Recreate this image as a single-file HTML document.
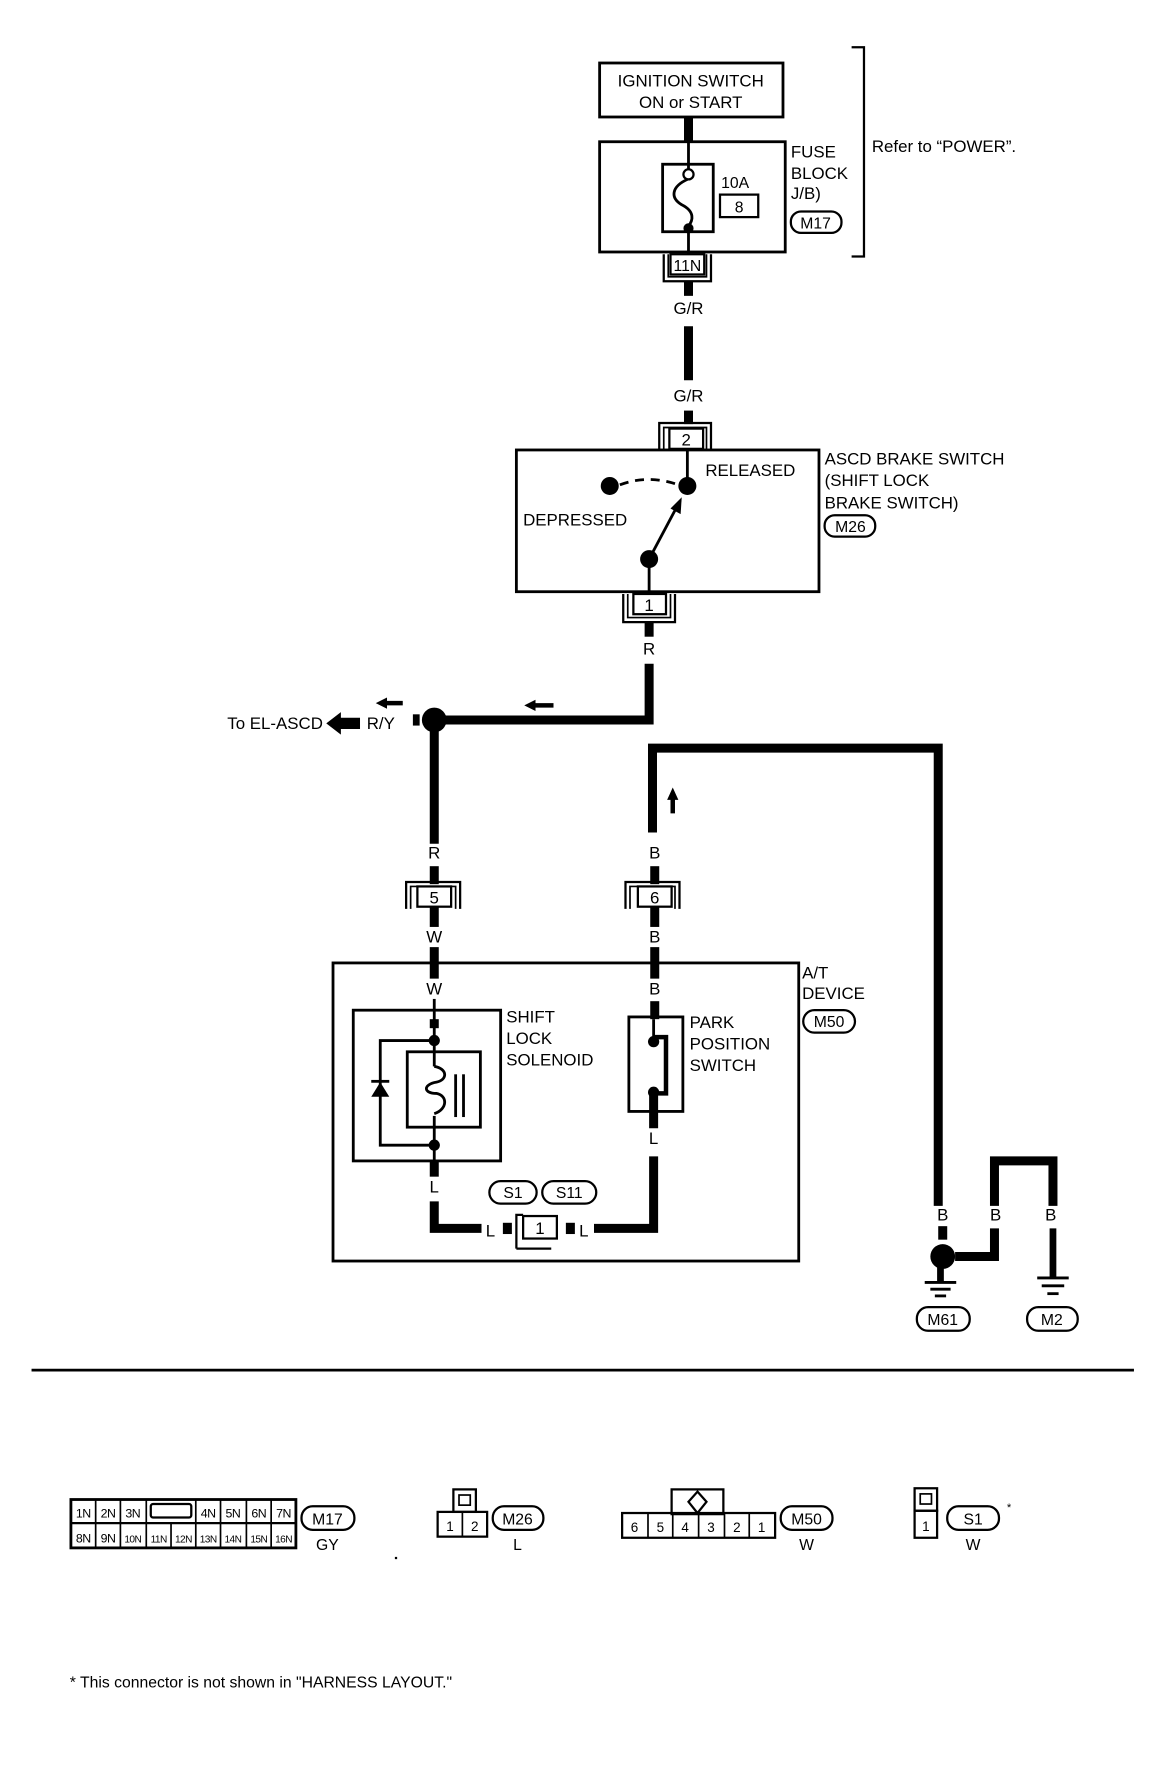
<!DOCTYPE html>
<html><head><meta charset="utf-8"><style>
html,body{margin:0;padding:0;background:#fff;}
svg{display:block;}
text{font-family:"Liberation Sans",sans-serif;fill:#000;}
</style></head><body>
<svg width="1152" height="1774" viewBox="0 0 1024 1577" xmlns="http://www.w3.org/2000/svg">
<g fill="none" stroke="#000">
<rect x="533" y="56" width="163" height="48" stroke-width="2.5"/>
<line x1="612" y1="104" x2="612" y2="126" stroke-width="8"/>
<rect x="533" y="126" width="165" height="98" stroke-width="2.5"/>
<rect x="589" y="146" width="45" height="60" stroke-width="2.5"/>
<line x1="612" y1="126" x2="612" y2="150" stroke-width="2.5"/>
<line x1="612" y1="203" x2="612" y2="226" stroke-width="2.5"/>
<path d="M612 159 C596 166 596 176 606 182 C618 188 616 196 612 201" stroke-width="2.5"/>
<circle cx="612" cy="155" r="4.5" stroke-width="2" fill="#fff"/>
<rect x="640" y="173" width="34" height="20" stroke-width="2"/>
<rect x="703" y="188" width="45" height="19" rx="9" stroke-width="2"/>
<path d="M757 42 H768 V228 H757" stroke-width="2"/>
<rect x="596" y="226" width="30" height="18" stroke-width="2" fill="#fff"/>
<path d="M590 226 V250 H632 V226" stroke-width="2"/>
<path d="M594 226 V246 H628 V226" stroke-width="1.5"/>
<line x1="612" y1="250" x2="612" y2="263" stroke-width="8"/>
<line x1="612" y1="290" x2="612" y2="338" stroke-width="8"/>
<line x1="612" y1="365" x2="612" y2="377" stroke-width="8"/>
<path d="M586 400 V376 H632 V400" stroke-width="2"/>
<path d="M590 400 V380 H628 V400" stroke-width="1.5"/>
<rect x="595" y="381" width="30" height="18" stroke-width="2" fill="#fff"/>
<rect x="459" y="400" width="269" height="126" stroke-width="2.5"/>
<line x1="611" y1="400" x2="611" y2="430" stroke-width="2.5"/>
<path d="M551 431 Q575 422 600 430" stroke-width="2.5" stroke-dasharray="8,6"/>
<line x1="577" y1="497" x2="603" y2="448" stroke-width="2.5"/>
<line x1="577" y1="497" x2="577" y2="528" stroke-width="2.5"/>
<rect x="733" y="458" width="45" height="19" rx="9" stroke-width="2"/>
<path d="M554 528 V553 H600 V528" stroke-width="2"/>
<path d="M558 528 V549 H596 V528" stroke-width="1.5"/>
<rect x="563" y="528" width="29" height="18" stroke-width="2" fill="#fff"/>
<line x1="577" y1="553" x2="577" y2="566" stroke-width="8"/>
<path d="M577 590 V640 H396" stroke-width="8"/>
<line x1="386" y1="650" x2="386" y2="750" stroke-width="8"/>
<line x1="386" y1="770" x2="386" y2="786" stroke-width="8"/>
<line x1="386" y1="806" x2="386" y2="824" stroke-width="8"/>
<line x1="386" y1="842" x2="386" y2="870" stroke-width="8"/>
<line x1="386" y1="888" x2="386" y2="913" stroke-width="2.5"/>
<path d="M361 808 V784 H409 V808" stroke-width="2"/>
<path d="M365 808 V788 H405 V808" stroke-width="1.5"/>
<rect x="371" y="788" width="30" height="18" stroke-width="2" fill="#fff"/>
<path d="M556 808 V784 H604 V808" stroke-width="2"/>
<path d="M560 808 V788 H600 V808" stroke-width="1.5"/>
<rect x="567" y="788" width="30" height="18" stroke-width="2" fill="#fff"/>
<path d="M580 740 V665 H834 V1072" stroke-width="8"/>
<line x1="582" y1="770" x2="582" y2="786" stroke-width="8"/>
<line x1="582" y1="806" x2="582" y2="824" stroke-width="8"/>
<line x1="582" y1="842" x2="582" y2="870" stroke-width="8"/>
<line x1="582" y1="890" x2="582" y2="906" stroke-width="8"/>
<rect x="296" y="856" width="414" height="265" stroke-width="2.5"/>
<rect x="314" y="898" width="131" height="134" stroke-width="2.5"/>
<rect x="362" y="935" width="65" height="67" stroke-width="2.5"/>
<line x1="386" y1="913" x2="386" y2="948" stroke-width="2.5"/>
<line x1="386" y1="992" x2="386" y2="1032" stroke-width="2.5"/>
<path d="M386 948 C398 950 398 960 388 962 C376 964 376 972 388 972 C398 974 398 986 386 990" stroke-width="2.5"/>
<line x1="405" y1="955" x2="405" y2="993" stroke-width="2.5"/>
<line x1="412" y1="955" x2="412" y2="993" stroke-width="2.5"/>
<path d="M386 925 H338 V1018 H386" stroke-width="2.5"/>
<line x1="386" y1="1032" x2="386" y2="1046" stroke-width="8"/>
<path d="M386 1068 V1092 H428" stroke-width="8"/>
<rect x="559" y="904" width="48" height="84" stroke-width="2.5"/>
<line x1="581" y1="906" x2="581" y2="926" stroke-width="2.5"/>
<line x1="581" y1="972" x2="581" y2="1003" stroke-width="8"/>
<path d="M581 922 H592 V972 H585" stroke-width="4"/>
<path d="M581 1028 V1092 H528" stroke-width="8"/>
<rect x="435" y="1050" width="42" height="20" rx="10" stroke-width="2"/>
<rect x="482" y="1050" width="48" height="20" rx="10" stroke-width="2"/>
<rect x="714" y="898" width="46" height="20" rx="10" stroke-width="2"/>
<rect x="465" y="1081" width="30" height="20" stroke-width="2"/>
<path d="M459 1110 V1080 H465" stroke-width="2"/>
<path d="M459 1110 H490" stroke-width="2"/>
<line x1="838" y1="1090" x2="838" y2="1102" stroke-width="8"/>
<path d="M849 1117 H884 V1092" stroke-width="8"/>
<path d="M884 1072 V1032 H936 V1072" stroke-width="8"/>
<line x1="836" y1="1125" x2="836" y2="1140" stroke-width="6"/>
<line x1="936" y1="1092" x2="936" y2="1136" stroke-width="6"/>
<line x1="822" y1="1140" x2="850" y2="1140" stroke-width="2.5"/>
<line x1="827" y1="1146" x2="845" y2="1146" stroke-width="2.5"/>
<line x1="831" y1="1152" x2="841" y2="1152" stroke-width="2.5"/>
<line x1="922" y1="1136" x2="950" y2="1136" stroke-width="2.5"/>
<line x1="926" y1="1143" x2="946" y2="1143" stroke-width="2.5"/>
<line x1="931" y1="1150" x2="941" y2="1150" stroke-width="2.5"/>
<rect x="815" y="1162" width="47" height="21" rx="10" stroke-width="2"/>
<rect x="913" y="1162" width="45" height="21" rx="10" stroke-width="2"/>
<line x1="28" y1="1218" x2="1008" y2="1218" stroke-width="2.5"/>
<rect x="63" y="1333" width="200" height="43" stroke-width="2.5"/>
<line x1="63" y1="1354" x2="263" y2="1354" stroke-width="2"/>
<g stroke-width="1.5">
<line x1="85" y1="1333" x2="85" y2="1376"/><line x1="107" y1="1333" x2="107" y2="1376"/>
<line x1="130" y1="1333" x2="130" y2="1376"/><line x1="152" y1="1354" x2="152" y2="1376"/>
<line x1="174" y1="1333" x2="174" y2="1376"/><line x1="196" y1="1333" x2="196" y2="1376"/>
<line x1="219" y1="1333" x2="219" y2="1376"/><line x1="241" y1="1333" x2="241" y2="1376"/>
</g>
<rect x="134" y="1337" width="36" height="12" rx="2" stroke-width="2"/>
<rect x="268" y="1339" width="47" height="21" rx="10" stroke-width="2"/>
<rect x="403" y="1324" width="20" height="20" stroke-width="2"/>
<rect x="408" y="1329" width="10" height="9" stroke-width="1.5"/>
<rect x="389" y="1344" width="44" height="22" stroke-width="2"/>
<line x1="411" y1="1344" x2="411" y2="1366" stroke-width="1.5"/>
<rect x="438" y="1339" width="45" height="21" rx="10" stroke-width="2"/>
<rect x="597" y="1324" width="46" height="22" stroke-width="2"/>
<path d="M620 1326 L628 1335 L620 1345 L612 1335 Z" stroke-width="2"/>
<rect x="553" y="1345" width="136" height="22" stroke-width="2"/>
<g stroke-width="1.5">
<line x1="576" y1="1345" x2="576" y2="1367"/><line x1="598" y1="1345" x2="598" y2="1367"/>
<line x1="621" y1="1345" x2="621" y2="1367"/><line x1="644" y1="1345" x2="644" y2="1367"/>
<line x1="666" y1="1345" x2="666" y2="1367"/>
</g>
<rect x="694" y="1339" width="46" height="21" rx="10" stroke-width="2"/>
<rect x="813" y="1323" width="20" height="20" stroke-width="2"/>
<rect x="818" y="1328" width="10" height="9" stroke-width="1.5"/>
<rect x="813" y="1343" width="20" height="24" stroke-width="2"/>
<rect x="842" y="1339" width="46" height="21" rx="10" stroke-width="2"/>
</g>
<g fill="#000">
<circle cx="612" cy="203" r="4.5"/>
<circle cx="542" cy="432" r="8"/><circle cx="611" cy="432" r="8"/><circle cx="577" cy="497" r="8"/>
<polygon points="606,442 596,452 605,457"/>
<circle cx="386" cy="640" r="11"/>
<rect x="367" y="635" width="6" height="10"/>
<polygon points="290,643 303,633 303,638 320,638 320,648 303,648 303,653"/>
<polygon points="466,627 476,622 476,625 492,625 492,629 476,629 476,632"/>
<polygon points="334,625 344,620 344,623 358,623 358,627 344,627 344,630"/>
<polygon points="598,700 593,711 596,711 596,723 600,723 600,711 603,711"/>
<rect x="382" y="906" width="8" height="8"/>
<circle cx="386" cy="925" r="5"/><circle cx="386" cy="1018" r="5"/>
<polygon points="338,962 330,975 346,975"/><rect x="330" y="960" width="16" height="2.5"/>
<circle cx="581" cy="926" r="5"/><circle cx="581" cy="971" r="5"/>
<rect x="447" y="1087" width="8" height="10"/><rect x="503" y="1087" width="8" height="10"/>
<circle cx="838" cy="1117" r="11"/>
</g>
<g font-size="15">
<text x="614" y="77" text-anchor="middle">IGNITION SWITCH</text>
<text x="614" y="96" text-anchor="middle">ON or START</text>
<text x="641" y="167" font-size="14">10A</text>
<text x="657" y="189" font-size="14" text-anchor="middle">8</text>
<text x="703" y="140">FUSE</text><text x="703" y="159">BLOCK</text><text x="703" y="177">J/B)</text>
<text x="725" y="203" font-size="14" text-anchor="middle">M17</text>
<text x="775" y="135">Refer to “POWER”.</text>
<text x="611" y="241" font-size="14" text-anchor="middle">11N</text>
<text x="612" y="279" text-anchor="middle">G/R</text>
<text x="612" y="357" text-anchor="middle">G/R</text>
<text x="610" y="396" text-anchor="middle">2</text>
<text x="627" y="423">RELEASED</text>
<text x="465" y="467">DEPRESSED</text>
<text x="733" y="413">ASCD BRAKE SWITCH</text>
<text x="733" y="432">(SHIFT LOCK</text>
<text x="733" y="452">BRAKE SWITCH)</text>
<text x="756" y="473" font-size="14" text-anchor="middle">M26</text>
<text x="577" y="543" text-anchor="middle">1</text>
<text x="577" y="582" text-anchor="middle">R</text>
<text x="287" y="648" text-anchor="end">To EL-ASCD</text>
<text x="326" y="648">R/Y</text>
<text x="386" y="763" text-anchor="middle">R</text>
<text x="386" y="803" text-anchor="middle">5</text>
<text x="386" y="838" text-anchor="middle">W</text>
<text x="386" y="884" text-anchor="middle">W</text>
<text x="582" y="763" text-anchor="middle">B</text>
<text x="582" y="803" text-anchor="middle">6</text>
<text x="582" y="838" text-anchor="middle">B</text>
<text x="582" y="884" text-anchor="middle">B</text>
<text x="450" y="909">SHIFT</text><text x="450" y="928">LOCK</text><text x="450" y="947">SOLENOID</text>
<text x="613" y="914">PARK</text><text x="613" y="933">POSITION</text><text x="613" y="952">SWITCH</text>
<text x="713" y="870">A/T</text><text x="713" y="888">DEVICE</text>
<text x="737" y="913" font-size="14" text-anchor="middle">M50</text>
<text x="386" y="1060" text-anchor="middle">L</text>
<text x="581" y="1017" text-anchor="middle">L</text>
<text x="456" y="1065" font-size="14" text-anchor="middle">S1</text>
<text x="506" y="1065" font-size="14" text-anchor="middle">S11</text>
<text x="436" y="1099" text-anchor="middle">L</text>
<text x="480" y="1097" text-anchor="middle">1</text>
<text x="519" y="1099" text-anchor="middle">L</text>
<text x="838" y="1085" text-anchor="middle">B</text>
<text x="885" y="1085" text-anchor="middle">B</text>
<text x="934" y="1085" text-anchor="middle">B</text>
<text x="838" y="1178" font-size="14" text-anchor="middle">M61</text>
<text x="935" y="1178" font-size="14" text-anchor="middle">M2</text>
</g>
<g font-size="11" text-anchor="middle" letter-spacing="-0.5">
<text x="74" y="1349">1N</text><text x="96" y="1349">2N</text><text x="118" y="1349">3N</text>
<text x="185" y="1349">4N</text><text x="207" y="1349">5N</text><text x="230" y="1349">6N</text><text x="252" y="1349">7N</text>
<text x="74" y="1371">8N</text><text x="96" y="1371">9N</text><text x="118" y="1371" font-size="9">10N</text>
<text x="141" y="1371" font-size="9">11N</text><text x="163" y="1371" font-size="9">12N</text><text x="185" y="1371" font-size="9">13N</text>
<text x="207" y="1371" font-size="9">14N</text><text x="230" y="1371" font-size="9">15N</text><text x="252" y="1371" font-size="9">16N</text>
</g>
<g font-size="14" text-anchor="middle">
<text x="291" y="1355">M17</text><text x="291" y="1378">GY</text>
<text x="400" y="1361" font-size="12">1</text><text x="422" y="1361" font-size="12">2</text>
<text x="460" y="1355">M26</text><text x="460" y="1378">L</text>
<text x="564" y="1362" font-size="12">6</text><text x="587" y="1362" font-size="12">5</text><text x="609" y="1362" font-size="12">4</text>
<text x="632" y="1362" font-size="12">3</text><text x="655" y="1362" font-size="12">2</text><text x="677" y="1362" font-size="12">1</text>
<text x="717" y="1355">M50</text><text x="717" y="1378">W</text>
<text x="823" y="1361" font-size="12">1</text>
<text x="865" y="1355">S1</text><text x="865" y="1378">W</text>
<text x="897" y="1343" font-size="10">*</text>
</g>
<rect x="351" y="1384" width="2" height="2" fill="#000"/>
<text x="62" y="1500" font-size="14">* This connector is not shown in "HARNESS LAYOUT."</text>
</svg>
</body></html>
